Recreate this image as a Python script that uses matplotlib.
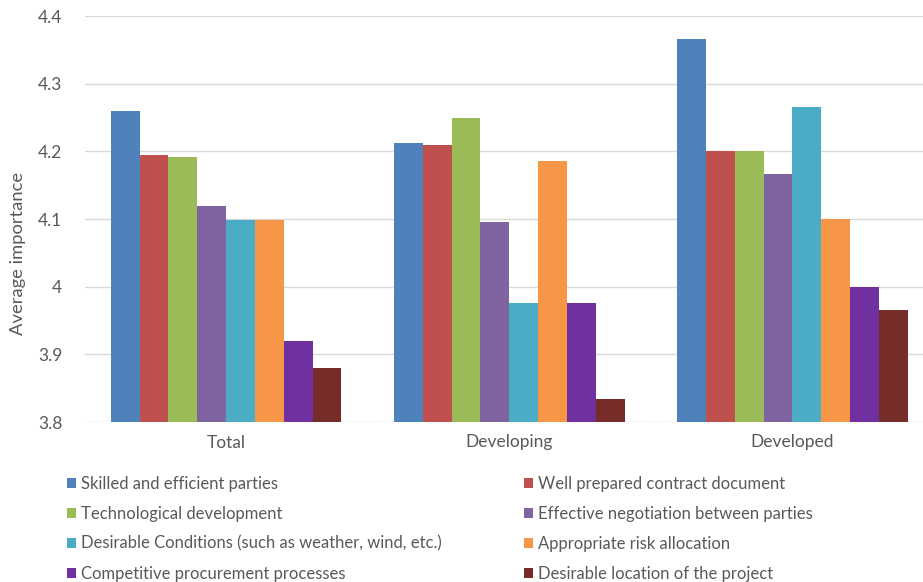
import numpy as np
import matplotlib.pyplot as plt

groups = ['Total', 'Developing', 'Developed']
factors = [
    'Skilled and efficient parties',
    'Well prepared contract document',
    'Technological development',
    'Effective negotiation between parties',
    'Desirable Conditions (such as weather, wind, etc.)',
    'Appropriate risk allocation',
    'Competitive procurement processes',
    'Desirable location of the project',
]
# average importance per factor: Total, Developing, Developed
skilled = [4.26, 4.213, 4.366]
contract = [4.195, 4.209, 4.2]
technology = [4.191, 4.249, 4.2]
negotiation = [4.119, 4.095, 4.166]
conditions = [4.099, 3.976, 4.266]
risk = [4.098, 4.185, 4.1]
procurement = [3.92, 3.976, 4.0]
location = [3.88, 3.834, 3.966]
yticks = [3.8, 3.9, 4.0, 4.1, 4.2, 4.3, 4.4]
ytick_labels = ['3.8', '3.9', '4', '4.1', '4.2', '4.3', '4.4']

series = [skilled, contract, technology, negotiation,
          conditions, risk, procurement, location]
colors = ['#4F81BD', '#C0504D', '#9BBB59', '#8064A2',
          '#4BACC6', '#F79646', '#7030A0', '#772C2A']

plt.rcParams['font.family'] = ['Lato', 'DejaVu Sans']
txt = '#595959'

fig = plt.figure(figsize=(9.23, 5.82), dpi=100)
ax = fig.add_axes([84.5 / 923, 1 - 422 / 582, (934 - 84.5) / 923, (422 - 16) / 582])

x = np.arange(len(groups))
n = len(series)
w = 0.815 / n
handles = []
for i, (vals, c) in enumerate(zip(series, colors)):
    offs = (i - (n - 1) / 2) * w
    b = ax.bar(x + offs, np.array(vals) - 3.8, w, bottom=3.8, color=c,
               label=factors[i], zorder=3)
    handles.append(b)

ax.set_xlim(-0.5, 2.5)
ax.set_ylim(3.8, 4.4)
ax.set_yticks(yticks)
ax.set_yticklabels(ytick_labels)
ax.set_xticks(x)
ax.set_xticklabels(groups)
ax.tick_params(length=0, colors=txt, labelsize=12.5)
ax.tick_params(axis='x', pad=9)
ax.tick_params(axis='y', pad=16)
ax.grid(axis='y', color='#D9D9D9', linewidth=1, zorder=0)
for s in ax.spines.values():
    s.set_visible(False)
ax.set_ylabel('Average importance', color=txt, fontsize=13.2)
ax.yaxis.set_label_coords(-0.069, 0.416)

order = [0, 2, 4, 6, 1, 3, 5, 7]
fig.legend([handles[k] for k in order], [factors[k] for k in order],
           loc='upper left', bbox_to_anchor=(52 / 923, 1 - 461 / 582),
           ncol=2, frameon=False, fontsize=12, labelcolor=txt,
           handlelength=0.55, handleheight=0.55, handletextpad=0.3,
           labelspacing=0.83, columnspacing=4.9)

fig.savefig('out.png', dpi=100)
